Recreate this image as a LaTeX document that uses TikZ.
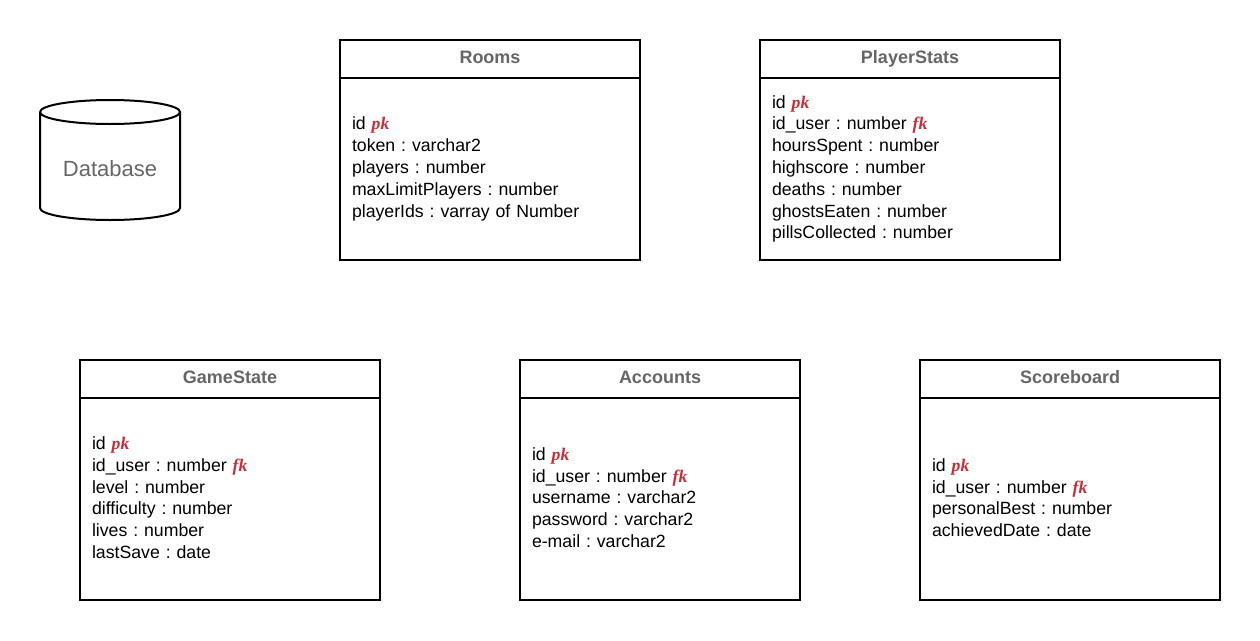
\documentclass[tikz,border=0pt]{standalone}
\usepackage{fontspec}
\setmainfont{Liberation Sans}
\newfontfamily\keyfont{Liberation Serif}
\usepackage{xcolor}
\usetikzlibrary{positioning}
\definecolor{keyred}{HTML}{C92D39}
\definecolor{headgrey}{HTML}{666666}
\newcommand{\pk}{{\keyfont\bfseries\itshape\textcolor{keyred}{pk}}}
\newcommand{\fk}{{\keyfont\bfseries\itshape\textcolor{keyred}{fk}}}
\newcommand{\lifted}{\rule[-3pt]{0pt}{0pt}}
\frenchspacing
\tikzset{
  tablehead/.style={draw,line width=2pt,outer sep=0pt,minimum height=38pt,anchor=north west,
    text height=14pt,text depth=6pt,text=headgrey,font=\fontsize{18}{21}\selectfont\bfseries},
  tablebody/.style={draw,line width=2pt,outer sep=0pt,inner xsep=12pt,inner ysep=0pt,align=left,
    font=\fontsize{17.7}{21.8}\selectfont},
}
\begin{document}
\begin{tikzpicture}[x=1pt,y=-1pt,node distance=0pt]
\useasboundingbox (0,0) rectangle (1260,640);
% database
\draw[line width=2pt](40,112) arc[start angle=180,end angle=540,x radius=70,y radius=12]
  (40,112)--(40,208) arc[start angle=180,end angle=0,x radius=70,y radius=12]--(180,112);
\node[text=headgrey,font=\fontsize{22}{26}\selectfont] (database) at (110,169) {Database};
% top row
\node[tablehead,minimum width=300pt] (rooms) at (340,40) {Rooms};
\node[tablebody,below=of rooms,minimum height=182pt,text width=276pt] (roomsbody) {id \pk\\token : varchar2\\players : number\\maxLimitPlayers : number\\playerIds : varray of Number};
\node[tablehead,minimum width=300pt] (stats) at (760,40) {PlayerStats};
\node[tablebody,below=of stats,minimum height=182pt,text width=276pt] (statsbody) {id \pk\\id\_user : number \fk\\hoursSpent : number\\highscore : number\\deaths : number\\ghostsEaten : number\\pillsCollected : number};
% bottom row
\node[tablehead,minimum width=300pt] (game) at (80,360) {GameState};
\node[tablebody,below=of game,minimum height=202pt,text width=276pt] (gamebody) {id \pk\\id\_user : number \fk\\level : number\\difficulty : number\\lives : number\\lastSave : date\lifted};
\node[tablehead,minimum width=280pt] (accounts) at (520,360) {Accounts};
\node[tablebody,below=of accounts,minimum height=202pt,text width=256pt] (accountsbody) {id \pk\\id\_user : number \fk\\username : varchar2\\password : varchar2\\e-mail : varchar2\lifted};
\node[tablehead,minimum width=300pt] (score) at (920,360) {Scoreboard};
\node[tablebody,below=of score,minimum height=202pt,text width=276pt] (scorebody) {id \pk\\id\_user : number \fk\\personalBest : number\\achievedDate : date\lifted};
\end{tikzpicture}
\end{document}
